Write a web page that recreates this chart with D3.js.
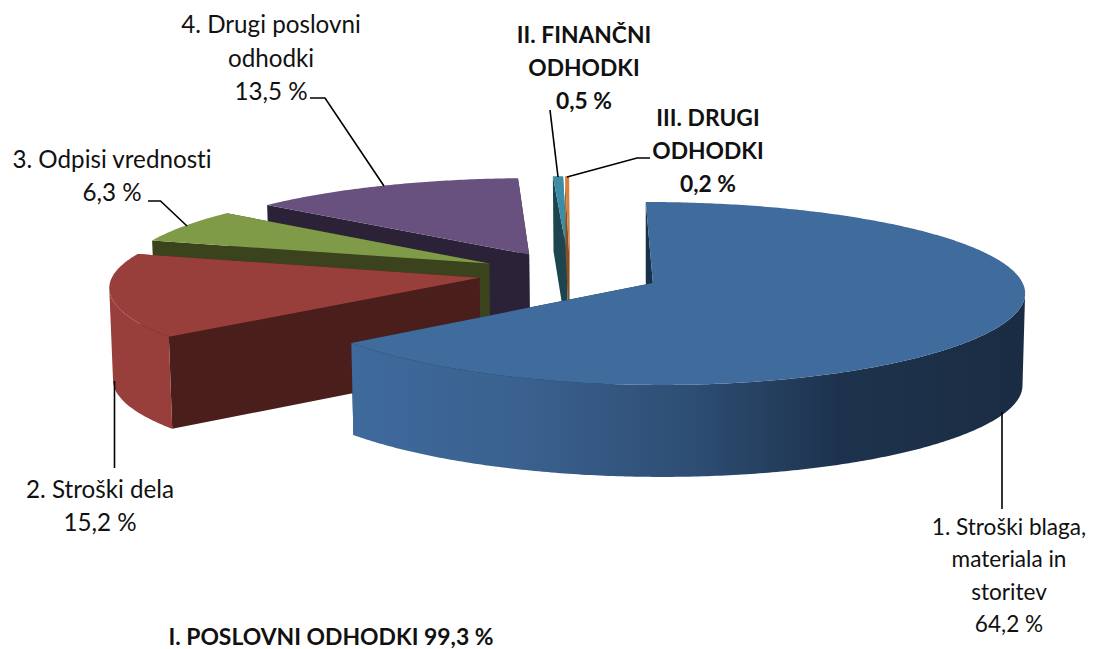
<!DOCTYPE html>
<html><head><meta charset="utf-8">
<script src="https://cdn.jsdelivr.net/npm/d3@7"></script>
<style>html,body{margin:0;padding:0;background:#fff;overflow:hidden}
text{font-family:Lato,"Open Sans",sans-serif;fill:#111;font-variant-ligatures:none}</style>
</head><body><div id="c"></div>
<script>
// data
const categories = ["1. Stroški blaga, materiala in storitev","2. Stroški dela","3. Odpisi vrednosti","4. Drugi poslovni odhodki","II. FINANČNI ODHODKI","III. DRUGI ODHODKI"];
const values = [64.2,15.2,6.3,13.5,0.5,0.2];
const valueLabels = ["64,2 %","15,2 %","6,3 %","13,5 %","0,5 %","0,2 %"];
const labelLines = [["1. Stroški blaga,","materiala in","storitev"],["2. Stroški dela"],["3. Odpisi vrednosti"],["4. Drugi poslovni","odhodki"],["II. FINANČNI","ODHODKI"],["III. DRUGI","ODHODKI"]];
const boldFlags = [false,false,false,false,true,true];
const footerLabel = "I. POSLOVNI ODHODKI 99,3 %";
// styles
const topColors = ["#3F6B9D","#983F3C","#7F9B48","#68517F","#3C8DA5","#D9803A"];
const radialColors = ["#1A3048","#4A1E1B","#3A431C","#2C2237","#1D4550","#8A5020"];
const wallColors = ["url(#blueWall)","#983F3C","#5A6E30","#4A3A5C","#1D4550","#8A5020"];
const paintOrder = [4,5,3,2,1,0];
const labelX = [1009,100,112,271,584,708];
const labelY = [535,498,168,33,43,126];
const lineGap = [32.3,33,33,33.5,33,33];
const labelSize = [22.6,24.2,24.2,24.2,22.8,22.8];
const leaders = [
 [[1002,412],[1002,509]],
 [[114.5,381],[114.5,468]],
 [[148,201],[160.5,201],[187,226]],
 [[310,98],[325,98],[384,186]],
 [[550,110],[558,177]],
 [[650,158],[637,158],[567,177]]
];
const W=1097,H=649;
const explode=0.25, persp=0.0932, taper=0.007;
const sx=d3.scaleLinear().domain([0,1]).range([569.6,569.6+366]);
const sy=d3.scaleLinear().domain([0,1]).range([273.5,273.5+86.85]);
const depthAt=d3.scaleLinear().domain([-1.25,0.2]).range([75,92]).clamp(true);

function project(u,v,h){
  const s=1/(1-persp*v);
  const x0=sx(u*s);
  const frontSag=v>0?3*v*v*v:0;
  return [x0+(650-x0)*taper*h, sy(v*s)+frontSag+depthAt(v)*h];
}
const svg=d3.select("#c").append("svg").attr("width",W).attr("height",H);
const grad=svg.append("defs").append("linearGradient").attr("id","blueWall")
  .attr("gradientUnits","userSpaceOnUse").attr("x1",352).attr("x2",1026).attr("y1",0).attr("y2",0);
[[0,"#3E6A9C"],[.25,"#3A618F"],[.5,"#2E4E74"],[.72,"#1D334D"],[1,"#1A2C43"]].forEach(d=>grad.append("stop").attr("offset",d[0]).attr("stop-color",d[1]));

const arcs=d3.pie().sort(null).value(d=>d)(values);
const path=d3.line();
const g=svg.append("g");
paintOrder.forEach(i=>{
  const a=arcs[i], mid=(a.startAngle+a.endAngle)/2;
  const ax=explode*Math.sin(mid), ay=-explode*Math.cos(mid);
  const P=(r,t,h)=>project(ax+r*Math.sin(t),ay-r*Math.cos(t),h);
  const apex=h=>P(0,0,h);
  const n=Math.max(2,Math.ceil((a.endAngle-a.startAngle)*90));
  const th=d3.range(n+1).map(k=>a.startAngle+(a.endAngle-a.startAngle)*k/n);
  const radial=[a.startAngle,a.endAngle].sort((p,q)=>(-Math.cos(p))-(-Math.cos(q)));
  radial.forEach(t=>{
    g.append("path").attr("d",path([P(1,t,0),apex(0),apex(1),P(1,t,1)])+"Z").attr("fill",radialColors[i]);
  });
  // outer wall: only the stretch of the rim that faces the viewer
  const front=th.filter((t,k)=>{
    const prev=th[Math.max(0,k-1)], next=th[Math.min(n,k+1)];
    return P(1,next,0)[0]<P(1,prev,0)[0];
  });
  if(front.length>1){
    const outer=front.map(t=>P(1,t,0)).concat(front.slice().reverse().map(t=>P(1,t,1)));
    g.append("path").attr("d",path(outer)+"Z").attr("fill",wallColors[i]);
  }
  const top=[apex(0)].concat(th.map(t=>P(1,t,0)));
  g.append("path").attr("d",path(top)+"Z").attr("fill",topColors[i]);
});
svg.append("g").selectAll("path").data(leaders).join("path")
  .attr("d",d=>path(d)).attr("fill","none").attr("stroke","#000").attr("stroke-width",1.6);
categories.forEach((c,i)=>{
  const t=svg.append("text").attr("text-anchor","middle").attr("font-weight",boldFlags[i]?700:400).style("font-size",labelSize[i]+"px");
  labelLines[i].concat([valueLabels[i]]).forEach((l,k)=>{
    t.append("tspan").attr("x",labelX[i]).attr("y",labelY[i]+k*lineGap[i]).text(l);
  });
});
svg.append("text").attr("x",331).attr("y",645).attr("text-anchor","middle").attr("font-weight",700).style("font-size","22.9px").text(footerLabel);
</script></body></html>
